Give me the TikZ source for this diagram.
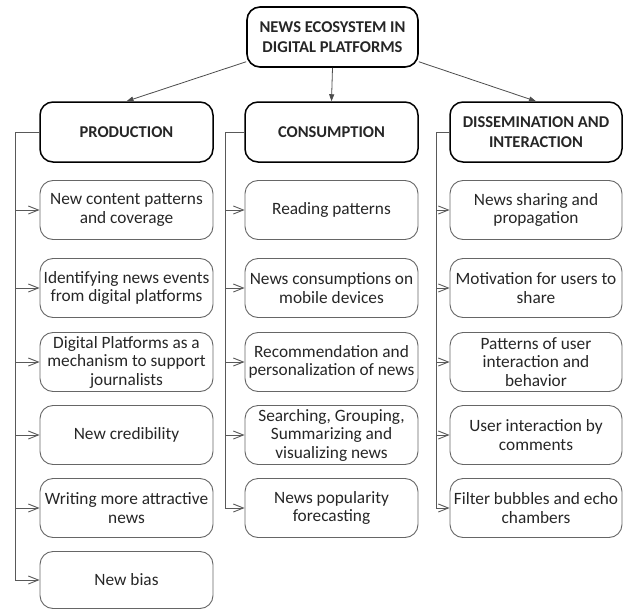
\documentclass[tikz,border=0pt]{standalone}
\usepackage{fontspec}
\setmainfont{Carlito}
\usetikzlibrary{arrows.meta}
\begin{document}
\begin{tikzpicture}[x=1pt,y=-1pt,
  rootbox/.style={draw=black, line width=1.6pt, rounded corners=13pt,
    minimum width=171pt, minimum height=60pt, align=center, text=black!85,
    inner sep=1pt, font=\bfseries\fontsize{16.5}{20}\selectfont},
  headbox/.style={draw=black, line width=1.5pt, rounded corners=13pt,
    minimum width=173pt, minimum height=60pt, align=center, text=black!85,
    inner sep=1pt, font=\bfseries\fontsize{16.5}{20}\selectfont},
  itembox/.style={draw=black!60, line width=0.9pt, rounded corners=13pt,
    minimum width=173pt, minimum height=59pt, align=center, text=black!85,
    inner sep=1pt, font=\fontsize{17.3}{18.5}\selectfont},
  trunk/.style={draw=black!65, line width=1pt},
  feed/.style={draw=black!65, line width=0.9pt, -{Straight Barb[length=10pt,width=8pt]}},
  topfeed/.style={draw=black!70, line width=0.8pt, -{Triangle[length=7pt,width=5pt]}}
]
\useasboundingbox (0,0) rectangle (629,610);

% root and the three column heads
\node[rootbox] (root) at (332.5,37) {NEWS ECOSYSTEM IN\\DIGITAL PLATFORMS};
\node[headbox] (prod) at (126.5,132) {PRODUCTION};
\node[headbox] (cons) at (331.5,132) {CONSUMPTION};
\node[headbox, minimum width=172pt] (diss) at (536,132) {DISSEMINATION AND\\INTERACTION};

\draw[topfeed] (root.196) -- (prod.north);
\draw[topfeed] (root.south) -- (cons.north);
\draw[topfeed] (root.-16) -- (diss.north);

% Production items
\node[itembox] (p1) at (126.5,210) {New content patterns\\and coverage};
\node[itembox] (p2) at (126.5,288) {Identifying news events\\from digital platforms};
\node[itembox] (p3) at (126.5,362) {Digital Platforms as a\\mechanism to support\\journalists};
\node[itembox] (p4) at (126.5,435) {New credibility};
\node[itembox] (p5) at (126.5,508) {Writing more attractive\\news};
\node[itembox, minimum height=57pt] (p6) at (126.5,580) {New bias};

% Consumption items
\node[itembox] (c1) at (331.5,210) {Reading patterns};
\node[itembox] (c2) at (331.5,288) {News consumptions on\\mobile devices};
\node[itembox] (c3) at (331.5,362) {Recommendation and\\personalization of news};
\node[itembox] (c4) at (331.5,435) {Searching, Grouping,\\Summarizing and\\visualizing news};
\node[itembox] (c5) at (331.5,508) {News popularity\\forecasting};

% Dissemination items
\node[itembox, minimum width=172pt] (d1) at (536,210) {News sharing and\\propagation};
\node[itembox, minimum width=172pt] (d2) at (536,288) {Motivation for users to\\share};
\node[itembox, minimum width=172pt] (d3) at (536,362) {Patterns of user\\interaction and\\behavior};
\node[itembox, minimum width=172pt] (d4) at (536,435) {User interaction by\\comments};
\node[itembox, minimum width=172pt] (d5) at (536,508) {Filter bubbles and echo\\chambers};

% trunk bend points
\coordinate (pt) at (15,132);  \coordinate (pb) at (15,580);
\coordinate (ct) at (225,132); \coordinate (cb) at (225,508);
\coordinate (dt) at (436,132); \coordinate (db) at (436,508);

\draw[trunk] (prod.west) -- (pt) -- (pb);
\draw[trunk] (cons.west) -- (ct) -- (cb);
\draw[trunk] (diss.west) -- (dt) -- (db);

\foreach \n in {p1,p2,p3,p4,p5,p6}{\draw[feed] (\n.west -| pt) -- (\n.west);}
\foreach \n in {c1,c2,c3,c4,c5}{\draw[feed] (\n.west -| ct) -- (\n.west);}
\foreach \n in {d1,d2,d3,d4,d5}{\draw[feed] (\n.west -| dt) -- (\n.west);}
\end{tikzpicture}
\end{document}
